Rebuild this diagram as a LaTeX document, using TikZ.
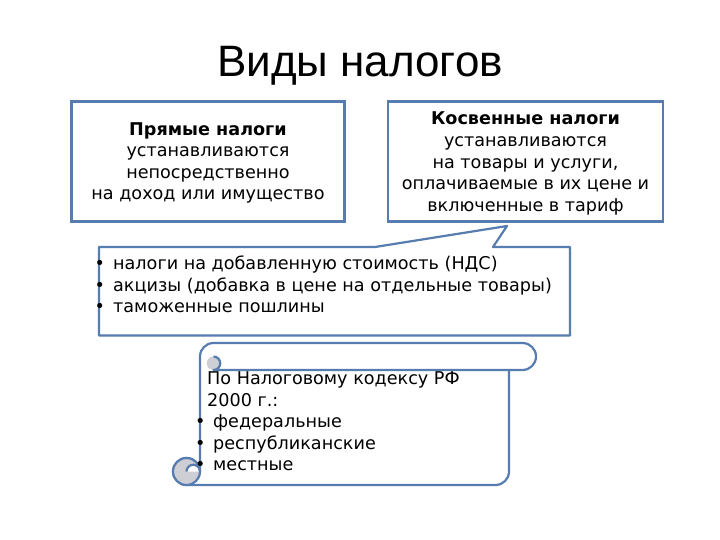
\documentclass[tikz,border=0pt]{standalone}
\usepackage{fontspec}
\setmainfont{DejaVu Sans}
\newfontfamily\titlefont{Liberation Sans}
\definecolor{edge}{RGB}{86,124,176}
\definecolor{curl}{RGB}{205,207,212}
\begin{document}
\begin{tikzpicture}[x=1pt,y=-1pt,
  box/.style={draw=edge, line width=2.2pt, fill=white, inner sep=0pt},
  txt/.style={font=\fontsize{17.6}{21.6}\selectfont, inner sep=0pt, align=center},
  ltxt/.style={font=\fontsize{17.6}{21.6}\selectfont, inner sep=0pt, align=left},
  outl/.style={draw=edge, line width=2.2pt, line join=round}]
\useasboundingbox (0,0) rectangle (720,540);
\fill[white] (0,0) rectangle (720,540);

% title
\node[inner sep=0pt, font=\titlefont\fontsize{44}{50}\selectfont] (title) at (360,66) {Виды налогов};

% direct taxes
\node[box, minimum width=273pt, minimum height=120pt] (direct) at (208,161.5) {};
\node[txt] (directtxt) at (208,163) {\textbf{Прямые налоги}\\устанавливаются\\непосредственно\\на доход или имущество};

% indirect taxes
\node[box, minimum width=275pt, minimum height=120pt] (indirect) at (525.5,161.5) {};
\node[txt] (indirecttxt) at (525.5,163.5) {\textbf{Косвенные налоги}\\устанавливаются\\на товары и услуги,\\оплачиваемые в их цене и\\включенные в тариф};

% callout
\draw[outl, fill=white] (99,247) -- (375,247) -- (507,226) -- (493,247) -- (570,247) -- (570,335.5) -- (99,335.5) -- cycle;
\node[ltxt, anchor=west] (calltxt) at (94.5,284.5) {\makebox[18.5pt][l]{•}налоги на добавленную стоимость (НДС)\\\makebox[18.5pt][l]{•}акцизы (добавка в цене на отдельные товары)\\\makebox[18.5pt][l]{•}таможенные пошлины};

% scroll
\draw[outl, fill=white] (200,471.5) -- (200,356.5) arc[start angle=180, end angle=270, radius=13.5]
  -- (522.5,343) arc[start angle=270, end angle=450, radius=13.5]
  -- (509,370) -- (509,471.5) arc[start angle=0, end angle=90, radius=13.5]
  -- (186.5,485) arc[start angle=90, end angle=360, radius=13.5] -- cycle;
\fill[curl] (186.5,471.5) circle[radius=13.5];
\fill[white] (200,471.5) arc[start angle=0, end angle=-180, radius=6.75] -- cycle;
\draw[outl] (186.5,471.5) circle[radius=13.5];
\draw[outl] (200,471.5) arc[start angle=0, end angle=-180, radius=6.75];
\fill[curl] (213.5,363.25) circle[radius=6.75];
\draw[outl] (213.5,356.5) arc[start angle=270, end angle=450, radius=6.75] -- (509,370);

\node[ltxt, anchor=west] (scrolltxt) at (195,421.5) {\hspace*{12pt}По Налоговому кодексу РФ\\\hspace*{12pt}2000 г.:\\\makebox[18pt][l]{•}федеральные\\\makebox[18pt][l]{•}республиканские\\\makebox[18pt][l]{•}местные};
\end{tikzpicture}
\end{document}
